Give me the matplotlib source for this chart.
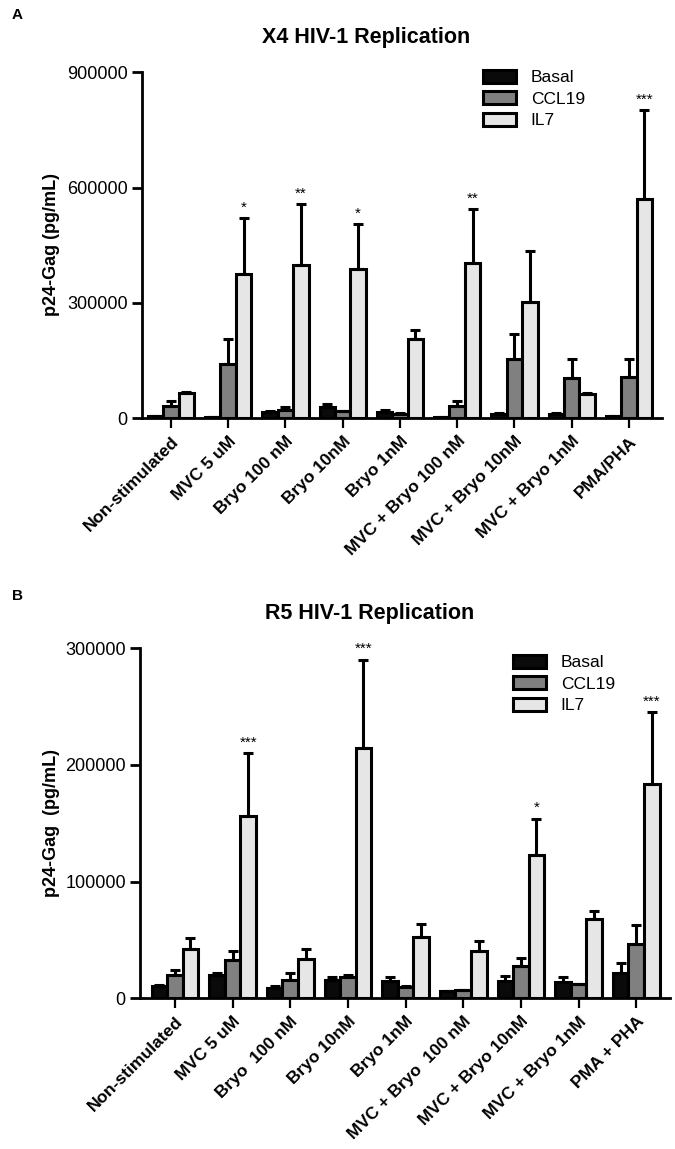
import matplotlib
matplotlib.use('Agg')
import matplotlib.pyplot as plt
import numpy as np

plt.rcParams['font.family'] = ['Liberation Sans', 'DejaVu Sans']

groups = ['Basal', 'CCL19', 'IL7']
colors = ['#0a0a0a', '#808080', '#e6e6e6']

# panel A: X4 HIV-1
cats_a = ['Non-stimulated', 'MVC 5 uM', 'Bryo 100 nM', 'Bryo 10nM', 'Bryo 1nM',
          'MVC + Bryo 100 nM', 'MVC + Bryo 10nM', 'MVC + Bryo 1nM', 'PMA/PHA']
basal_a = [5000, 3000, 15000, 28000, 17000, 3000, 10000, 10000, 5000]
basal_err_a = [1000, 500, 3000, 10000, 4000, 500, 3000, 3000, 2000]
ccl19_a = [33000, 142000, 22000, 18000, 12000, 33000, 153000, 105000, 108000]
ccl19_err_a = [12000, 65000, 6000, 1000, 1000, 12000, 66000, 48000, 45000]
il7_a = [66000, 375000, 400000, 388000, 205000, 405000, 302000, 63000, 570000]
il7_err_a = [1000, 145000, 158000, 117000, 25000, 140000, 132000, 3000, 232000]
stars_a = ['', '*', '**', '*', '', '**', '', '', '***']
yticks_a = [0, 300000, 600000, 900000]

# panel B: R5 HIV-1
cats_b = ['Non-stimulated', 'MVC 5 uM', 'Bryo  100 nM', 'Bryo 10nM', 'Bryo 1nM',
          'MVC + Bryo  100 nM', 'MVC + Bryo 10nM', 'MVC + Bryo 1nM', 'PMA + PHA']
basal_b = [10500, 20000, 9000, 16000, 15000, 6000, 15000, 14000, 22000]
basal_err_b = [1000, 2000, 2000, 2000, 3000, 500, 4000, 4000, 8000]
ccl19_b = [20000, 33000, 16000, 18000, 10000, 7000, 28000, 12000, 47000]
ccl19_err_b = [4000, 8000, 6000, 2000, 500, 500, 7000, 500, 16000]
il7_b = [42000, 156000, 34000, 214000, 53000, 41000, 123000, 68000, 184000]
il7_err_b = [10000, 54000, 8000, 76000, 11000, 8000, 31000, 7000, 61000]
stars_b = ['', '***', '', '***', '', '', '*', '', '***']
yticks_b = [0, 100000, 200000, 300000]


def draw_panel(ax, cats, vals, errs, stars, yticks, xlim, star_pad):
    x = np.arange(len(cats))
    w = 0.27
    lw = 2.2
    for i, (v, e) in enumerate(zip(vals, errs)):
        pos = x + (i - 1) * w
        ax.bar(pos, v, width=w, color=colors[i], edgecolor='black', linewidth=lw,
               label=groups[i], zorder=2)
        ax.errorbar(pos, v, yerr=[np.zeros(len(v)), e], fmt='none', ecolor='black',
                    elinewidth=lw, capsize=3.5, capthick=lw, zorder=3)
    # significance stars over IL7 bars
    for xi, s in enumerate(stars):
        if s:
            top = vals[2][xi] + errs[2][xi]
            ax.text(x[xi] + w, top + star_pad, s, ha='center', va='bottom', fontsize=11)

    ax.set_xlim(*xlim)
    ax.set_ylim(0, yticks[-1])
    ax.set_yticks(yticks)
    ax.set_yticklabels([str(t) for t in yticks], fontsize=13)
    ax.set_xticks(x)
    ax.set_xticklabels(cats, rotation=45, ha='right', rotation_mode='anchor',
                       fontsize=12.5, fontweight='bold')
    for side in ['top', 'right']:
        ax.spines[side].set_visible(False)
    for side in ['left', 'bottom']:
        ax.spines[side].set_linewidth(2)
    ax.tick_params(axis='y', direction='out', length=7, width=2, pad=3)
    ax.tick_params(axis='x', direction='out', length=7, width=1.6, pad=4)


fig = plt.figure(figsize=(6.75, 11.49), dpi=100)

ax_a = fig.add_axes([0.210, 0.636, 0.771, 0.301])
draw_panel(ax_a, cats_a, [basal_a, ccl19_a, il7_a], [basal_err_a, ccl19_err_a, il7_err_a],
           stars_a, yticks_a, (-0.51, 8.58), 9000)
ax_b = fig.add_axes([0.207, 0.131, 0.786, 0.305])
draw_panel(ax_b, cats_b, [basal_b, ccl19_b, il7_b], [basal_err_b, ccl19_err_b, il7_err_b],
           stars_b, yticks_b, (-0.61, 8.59), 3000)

# legends
for ax, lx, ly in [(ax_a, 483, 70), (ax_b, 513, 655)]:
    ax.legend(loc='upper left', bbox_to_anchor=(lx / 675, 1 - ly / 1149),
              bbox_transform=fig.transFigure, frameon=False, fontsize=12.5,
              borderpad=0, borderaxespad=0, handlelength=1.9, handleheight=0.75,
              handletextpad=0.85, labelspacing=0.35)

# titles, y labels, panel letters
fig.text(366 / 675, 1 - 37 / 1149, 'X4 HIV-1 Replication', ha='center', va='center',
         fontsize=15.5, fontweight='bold')
fig.text(370 / 675, 1 - 613 / 1149, 'R5 HIV-1 Replication', ha='center', va='center',
         fontsize=15.5, fontweight='bold')
fig.text(52 / 675, 1 - 245 / 1149, 'p24-Gag (pg/mL)', ha='center', va='center',
         rotation=90, fontsize=13, fontweight='bold')
fig.text(52 / 675, 1 - 823 / 1149, 'p24-Gag  (pg/mL)', ha='center', va='center',
         rotation=90, fontsize=13, fontweight='bold')
fig.text(12 / 675, 1 - 15 / 1149, 'A', ha='left', va='center', fontsize=11, fontweight='bold')
fig.text(12 / 675, 1 - 596 / 1149, 'B', ha='left', va='center', fontsize=11, fontweight='bold')

fig.savefig('out.png', dpi=100)
